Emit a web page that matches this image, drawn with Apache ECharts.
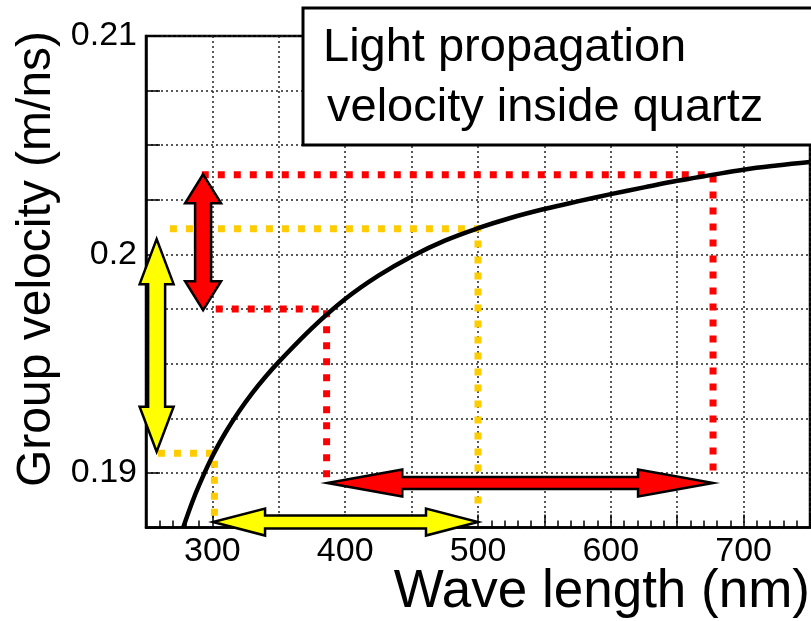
<!DOCTYPE html>
<html>
<head>
<meta charset="utf-8">
<script src="https://cdn.jsdelivr.net/npm/echarts@6/dist/echarts.min.js"></script>
<style>
html,body{margin:0;padding:0;background:#fff;}
#chart{width:811px;height:621px;}
</style>
</head>
<body>
<div id="chart"></div>
<script>
// ---- data ----
const wavelength = [278, 285, 290, 300, 310, 320, 330, 340, 350, 375, 400, 425, 450, 475, 500, 525, 550, 575, 600, 625, 650, 675, 700, 725, 750];
const groupVelocity = [0.18750, 0.18869, 0.18944, 0.19076, 0.19186, 0.19281, 0.19365, 0.19440, 0.19508, 0.19663, 0.19796, 0.19903, 0.19991, 0.20063, 0.20120, 0.20168, 0.20208, 0.20243, 0.20276, 0.20307, 0.20337, 0.20363, 0.20388, 0.20407, 0.20423];
const xTickLabels = [300, 400, 500, 600, 700];
const yTickLabels = [0.19, 0.2, 0.21];

// annotation guide lines (data units: [wavelength, velocity])
const redGuideUpper = [[292, 0.20365], [677, 0.20365], [677, 0.1901]];
const redGuideLower = [[302.5, 0.1975], [386, 0.1975], [386, 0.1895]];
const yellowGuideUpper = [[268, 0.20118], [500, 0.20118], [500, 0.1883]];
const yellowGuideLower = [[259, 0.1909], [301.5, 0.1909], [301.5, 0.1880]];

// double arrows: [x1, y1, x2, y2]
const arrows = [
  [293, 0.20367, 293, 0.19745],
  [258, 0.2007, 258, 0.19097],
  [386.5, 0.18954, 677, 0.18954],
  [300.5, 0.18775, 500, 0.18775]
];
// ---- styling ----
const arrowLook = [
  {fill: '#ff0000', head: 29, headW: 36, shaftW: 16},
  {fill: '#ffff00', head: 45, headW: 34, shaftW: 17},
  {fill: '#ff0000', head: 75, headW: 27, shaftW: 12},
  {fill: '#ffff00', head: 52, headW: 27, shaftW: 13}
];

const FONT = '"Liberation Sans", Arial, Helvetica, sans-serif';
const RED = '#ff0000', YEL = '#ffcc00';

function guide(data, color) {
  return {
    type: 'line', data: data, showSymbol: false, silent: true, z: 3,
    clip: false, animation: false,
    lineStyle: {color: color, width: 7, type: [7, 9], cap: 'butt', join: 'miter'}
  };
}

const chart = echarts.init(document.getElementById('chart'), null, {renderer: 'canvas'});
chart.setOption({
  animation: false,
  backgroundColor: '#ffffff',
  grid: {left: 146, top: 36, right: 1, bottom: 93.5, containLabel: false, outerBoundsMode: 'none',
         show: true, borderColor: '#000', borderWidth: 2.5, backgroundColor: 'transparent'},
  xAxis: {
    type: 'value', min: 250, max: 750, interval: 50,
    axisLine: {show: true, lineStyle: {color: '#000', width: 2.5}},
    axisTick: {show: true, inside: true, length: 13, lineStyle: {color: '#000', width: 1.5}},
    minorTick: {show: true, splitNumber: 5, length: 7, lineStyle: {color: '#000', width: 1.5}},
    splitLine: {show: true, lineStyle: {color: '#222', width: 1.5, type: [2, 3]}},
    axisLabel: {
      fontFamily: FONT, fontSize: 34, color: '#000', margin: 7,
      formatter: v => xTickLabels.indexOf(v) >= 0 ? String(v) : ''
    }
  },
  yAxis: {
    type: 'value', min: 0.1875, max: 0.21, interval: 0.0025,
    axisLine: {show: true, lineStyle: {color: '#000', width: 2.5}},
    axisTick: {show: true, inside: true, length: 14, lineStyle: {color: '#000', width: 1.5}},
    splitLine: {show: true, lineStyle: {color: '#222', width: 1.5, type: [2, 3]}},
    axisLabel: {
      fontFamily: FONT, fontSize: 34, color: '#000', margin: 9,
      formatter: v => {
        for (const t of yTickLabels) if (Math.abs(v - t) < 1e-7) return String(t);
        return '';
      }
    }
  },
  series: [
    guide(redGuideUpper, RED),
    guide(redGuideLower, RED),
    guide(yellowGuideUpper, YEL),
    guide(yellowGuideLower, YEL),
    {
      type: 'line', data: wavelength.map((w, i) => [w, groupVelocity[i]]),
      smooth: 0.4, showSymbol: false, z: 5, clip: true,
      lineStyle: {color: '#000', width: 4.5}
    },
    {
      type: 'custom', z: 10, clip: false, silent: true,
      encode: {x: [0, 2], y: [1, 3]},
      data: arrows,
      renderItem: function (params, api) {
        const p1 = api.coord([api.value(0), api.value(1)]);
        const p2 = api.coord([api.value(2), api.value(3)]);
        const st = arrowLook[params.dataIndex];
        const dx = p2[0] - p1[0], dy = p2[1] - p1[1];
        const len = Math.sqrt(dx * dx + dy * dy);
        const ux = dx / len, uy = dy / len;
        const nx = -uy, ny = ux;
        const h = st.headW / 2, s = st.shaftW / 2, L = st.head;
        const pts = [
          p1,
          [p1[0] + ux * L + nx * h, p1[1] + uy * L + ny * h],
          [p1[0] + ux * L + nx * s, p1[1] + uy * L + ny * s],
          [p2[0] - ux * L + nx * s, p2[1] - uy * L + ny * s],
          [p2[0] - ux * L + nx * h, p2[1] - uy * L + ny * h],
          p2,
          [p2[0] - ux * L - nx * h, p2[1] - uy * L - ny * h],
          [p2[0] - ux * L - nx * s, p2[1] - uy * L - ny * s],
          [p1[0] + ux * L - nx * s, p1[1] + uy * L - ny * s],
          [p1[0] + ux * L - nx * h, p1[1] + uy * L - ny * h]
        ];
        return {type: 'polygon', shape: {points: pts},
                style: {fill: st.fill, stroke: '#000', lineWidth: 2.5, lineJoin: 'miter'}};
      }
    }
  ],
  graphic: [
    {type: 'rect', z: 100, shape: {x: 303, y: 8, width: 530, height: 137},
     style: {fill: '#fff', stroke: '#000', lineWidth: 3}},
    {type: 'text', z: 101, x: 323, y: 48.5,
     style: {text: 'Light propagation', font: '47px ' + FONT, fill: '#000', textAlign: 'left', textVerticalAlign: 'middle'}},
    {type: 'text', z: 101, x: 327, y: 108.5,
     style: {text: 'velocity inside quartz', font: '47px ' + FONT, fill: '#000', textAlign: 'left', textVerticalAlign: 'middle'}},
    {type: 'text', z: 101, x: 810, y: 592,
     style: {text: 'Wave length (nm)', font: '53px ' + FONT, fill: '#000', textAlign: 'right', textVerticalAlign: 'middle'}},
    {type: 'text', z: 101, x: 37, y: 259, rotation: Math.PI / 2,
     style: {text: 'Group velocity (m/ns)', font: '48px ' + FONT, fill: '#000', textAlign: 'center', textVerticalAlign: 'middle'}}
  ]
});
</script>
</body>
</html>
